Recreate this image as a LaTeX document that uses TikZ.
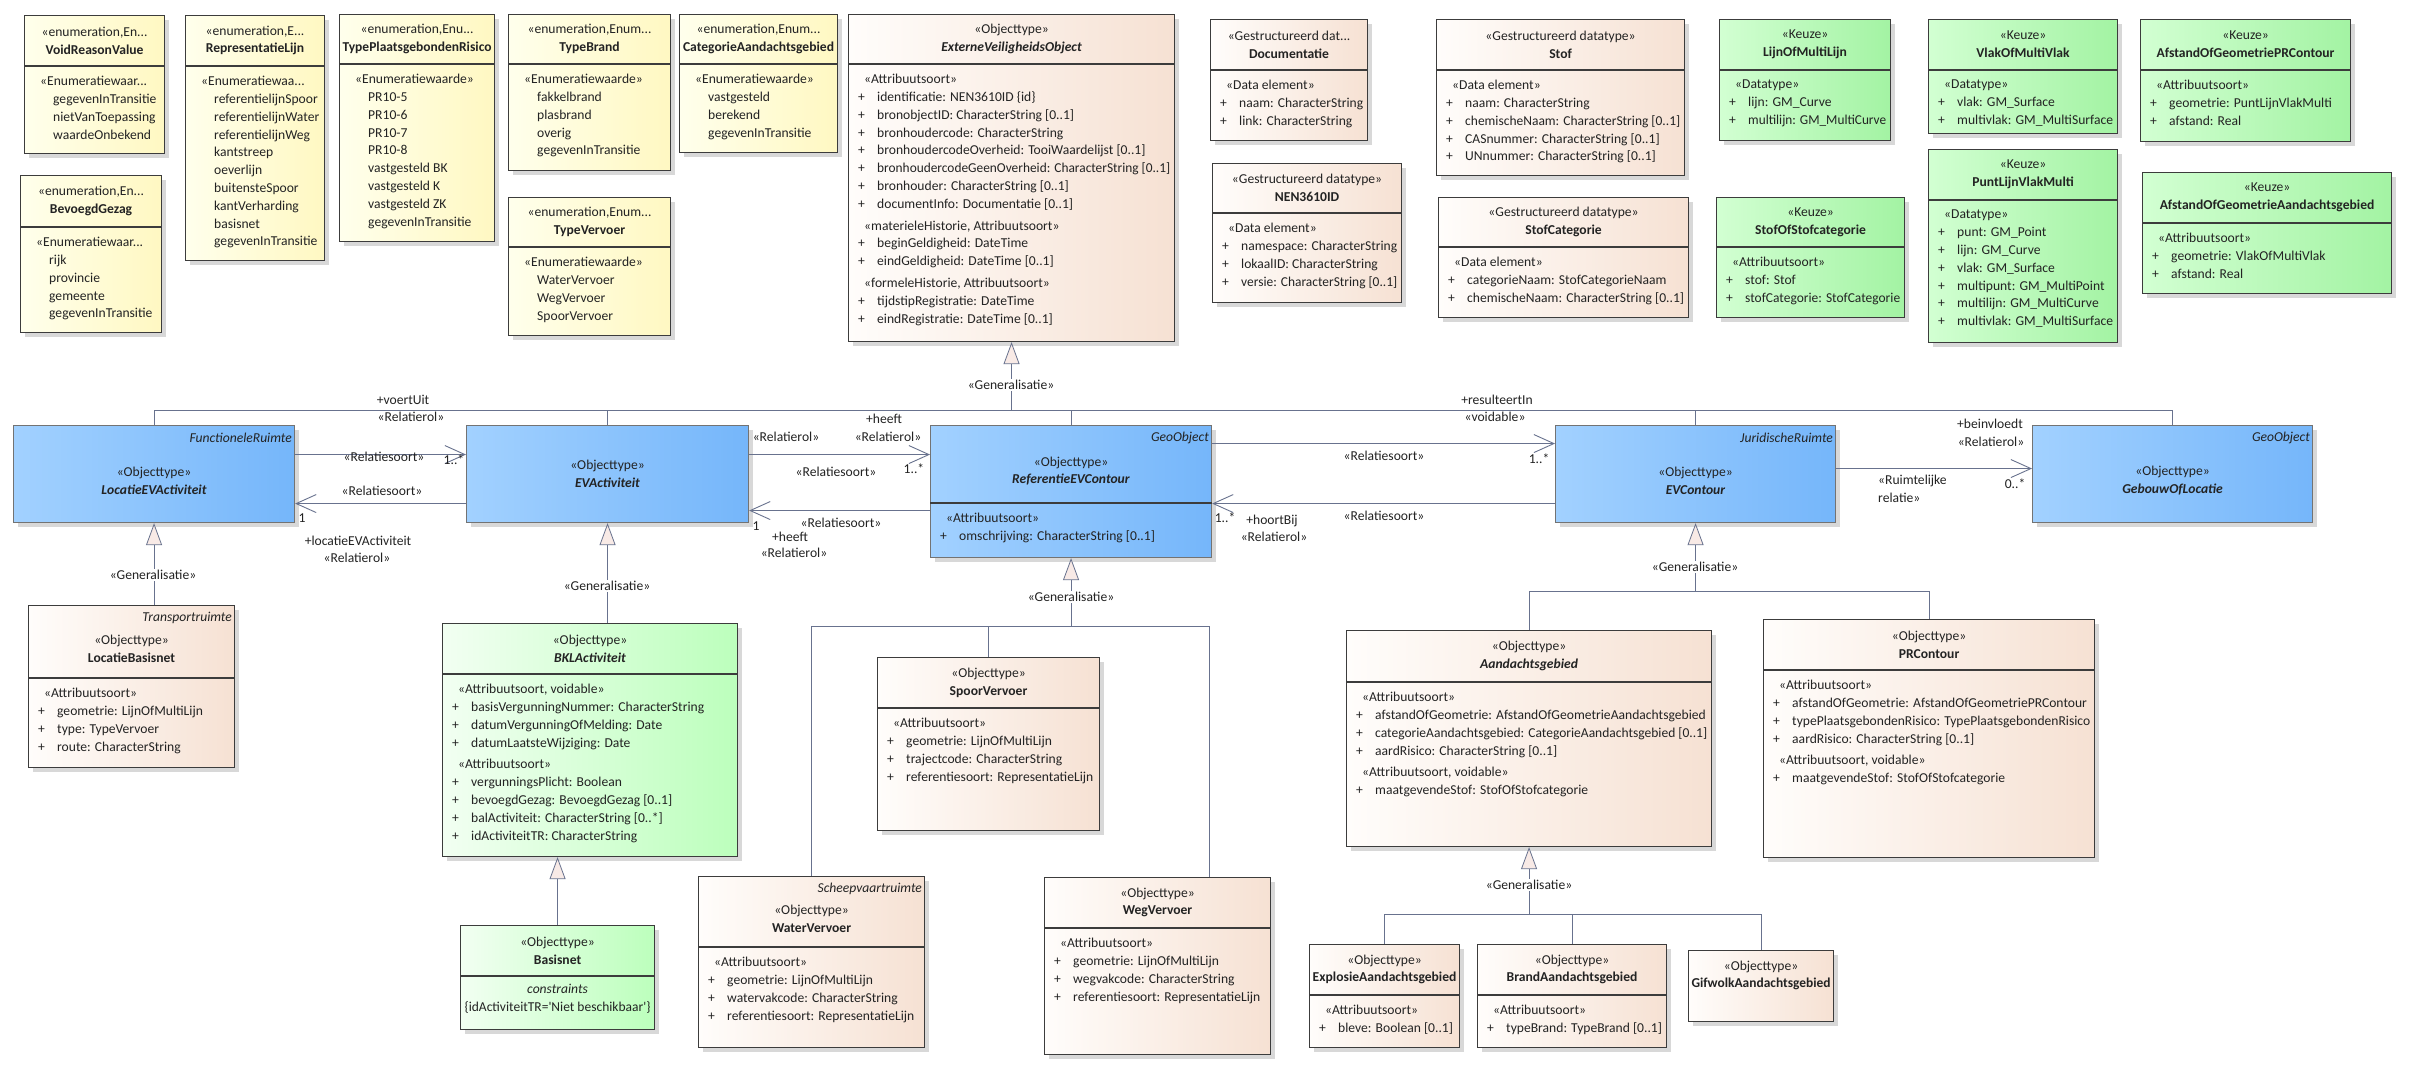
\documentclass[tikz,border=0pt]{standalone}
\usepackage{fontspec}
\setmainfont{Carlito}
\usepackage{graphicx}
\usepackage{tikz}
\usetikzlibrary{arrows.meta,calc,shadows}

\definecolor{enumL}{RGB}{255,255,236}
\definecolor{enumR}{RGB}{255,248,194}
\definecolor{objL}{RGB}{255,253,251}
\definecolor{objR}{RGB}{246,225,211}
\definecolor{blueL}{RGB}{162,209,255}
\definecolor{blueR}{RGB}{117,182,250}
\definecolor{keuzeL}{RGB}{210,255,210}
\definecolor{keuzeR}{RGB}{163,243,163}
\definecolor{bklL}{RGB}{242,255,242}
\definecolor{bklR}{RGB}{188,255,188}
\definecolor{genfill}{RGB}{248,234,230}
\definecolor{lncol}{RGB}{104,114,142}
\definecolor{boxline}{RGB}{60,60,60}
\definecolor{txt}{RGB}{35,35,35}

\newcommand{\fs}{\fontsize{13.6}{17.8}\selectfont}
\newsavebox\fitbox
\newlength\fitlen
\newcommand{\fitw}[2]{\setlength\fitlen{#1}\sbox\fitbox{#2}%
  \ifdim\wd\fitbox>\fitlen\resizebox{\fitlen}{\ht\fitbox}{\usebox\fitbox}\else\usebox\fitbox\fi}
\newcommand{\bw}{100}
\newcommand{\attr}[1]{\makebox[19pt][l]{+}\fitw{\dimexpr\bw pt-33pt\relax}{#1}}
\newcommand{\ster}[1]{\hspace*{6pt}#1}
\newcommand{\eval}[1]{\hspace*{19pt}#1}
\newcommand{\hname}[1]{\fitw{\dimexpr\bw pt-6pt\relax}{\textbf{#1}}}
\newcommand{\hnamei}[1]{\fitw{\dimexpr\bw pt-6pt\relax}{\textbf{\textit{#1}}}}
\newcommand{\umlclass}[9]{%
  \renewcommand{\bw}{#4}%
  \node[#2, minimum width=#4pt, minimum height=#5pt] (#1) at (#3) {};
  \if\relax\detokenize{#9}\relax\else
    \draw[sepline] ($(#1.north west)+(0,#6)$) -- ($(#1.north east)+(0,#6)$);
    \node[body] (#1-b) at ($(#1.north west)+(10,#6+10)$) {#9};
  \fi
  \if\relax\detokenize{#7}\relax
    \node[hdr] (#1-h) at ($(#1.north)+(0,#6/2)$) {#8};
  \else
    \node[tag] (#1-t) at ($(#1.north east)+(-3,13)$) {#7};
    \node[hdr] (#1-h) at ($(#1.north)+(0,7+#6/2)$) {#8};
  \fi}

\begin{document}
\begin{tikzpicture}[
    x=1pt, y=-1pt,
    box/.style={draw=boxline, line width=1.1pt, inner sep=0pt, anchor=north west,
                drop shadow={shadow xshift=4pt, shadow yshift=-4pt, opacity=0.25, fill=black!60}},
    enumbox/.style={box, left color=enumL, right color=enumR},
    objbox/.style={box, left color=objL, right color=objR},
    bluebox/.style={box, left color=blueL, right color=blueR, draw=black!55},
    keuzebox/.style={box, left color=keuzeL, right color=keuzeR},
    bklbox/.style={box, left color=bklL, right color=bklR},
    sepline/.style={draw=boxline, line width=1.1pt},
    hdr/.style={anchor=center, align=center, inner sep=0pt, font=\fs, text=txt},
    body/.style={anchor=north west, align=left, inner sep=0pt, font=\fs, text=txt,
                 execute at begin node=\strut},
    tag/.style={anchor=east, inner sep=0pt, font=\fs\itshape, text=txt},
    lbl/.style={inner sep=0pt, font=\fs, text=txt},
    genlbl/.style={lbl, fill=white, inner sep=1.5pt},
    genline/.style={draw=lncol, line width=0.8pt},
    genarr/.style={genline, -{Triangle[length=22pt, width=16pt, fill=genfill]}},
    assoc/.style={draw=lncol, line width=0.9pt, -{Straight Barb[length=20pt, width=18pt]}}
  ]
  \fill[white] (0,0) rectangle (2411,1072);
  \useasboundingbox (0,0) rectangle (2411,1072);

  \umlclass{vrv}{enumbox}{24,15}{140}{138}{51}{}{«enumeration,En...\\\hname{VoidReasonValue}}
    {\ster{«Enumeratiewaar...}\\\eval{gegevenInTransitie}\\\eval{nietVanToepassing}\\\eval{waardeOnbekend}}
  \umlclass{bg}{enumbox}{20,175}{141}{157}{52}{}{«enumeration,En...\\\hname{BevoegdGezag}}
    {\ster{«Enumeratiewaar...}\\\eval{rijk}\\\eval{provincie}\\\eval{gemeente}\\\eval{gegevenInTransitie}}
  \umlclass{rl}{enumbox}{185,15}{139}{245}{51}{}{«enumeration,E...\\\hname{RepresentatieLijn}}
    {\ster{«Enumeratiewaa...}\\\eval{referentielijnSpoor}\\\eval{referentielijnWater}\\\eval{referentielijnWeg}\\\eval{kantstreep}\\\eval{oeverlijn}\\\eval{buitensteSpoor}\\\eval{kantVerharding}\\\eval{basisnet}\\\eval{gegevenInTransitie}}
  \umlclass{tpr}{enumbox}{339,14}{155}{227}{50}{}{«enumeration,Enu...\\\hname{TypePlaatsgebondenRisico}}
    {\ster{«Enumeratiewaarde»}\\\eval{PR10-5}\\\eval{PR10-6}\\\eval{PR10-7}\\\eval{PR10-8}\\\eval{vastgesteld BK}\\\eval{vastgesteld K}\\\eval{vastgesteld ZK}\\\eval{gegevenInTransitie}}
  \umlclass{tb}{enumbox}{508,14}{162}{156}{50}{}{«enumeration,Enum...\\\hname{TypeBrand}}
    {\ster{«Enumeratiewaarde»}\\\eval{fakkelbrand}\\\eval{plasbrand}\\\eval{overig}\\\eval{gegevenInTransitie}}
  \umlclass{tv}{enumbox}{508,197}{162}{138}{50}{}{«enumeration,Enum...\\\hname{TypeVervoer}}
    {\ster{«Enumeratiewaarde»}\\\eval{WaterVervoer}\\\eval{WegVervoer}\\\eval{SpoorVervoer}}
  \umlclass{cag}{enumbox}{679,14}{158}{138}{50}{}{«enumeration,Enum...\\\hname{CategorieAandachtsgebied}}
    {\ster{«Enumeratiewaarde»}\\\eval{vastgesteld}\\\eval{berekend}\\\eval{gegevenInTransitie}}

  \umlclass{evo}{objbox}{848,14}{326}{327}{50}{}{«Objecttype»\\\hnamei{ExterneVeiligheidsObject}}
    {\ster{«Attribuutsoort»}\\\attr{identificatie: NEN3610ID \{id\}}\\\attr{bronobjectID: CharacterString [0..1]}\\\attr{bronhoudercode: CharacterString}\\\attr{bronhoudercodeOverheid: TooiWaardelijst [0..1]}\\\attr{bronhoudercodeGeenOverheid: CharacterString [0..1]}\\\attr{bronhouder: CharacterString [0..1]}\\\attr{documentInfo: Documentatie [0..1]}\\[4pt]\ster{«materieleHistorie, Attribuutsoort»}\\\attr{beginGeldigheid: DateTime}\\\attr{eindGeldigheid: DateTime [0..1]}\\[4pt]\ster{«formeleHistorie, Attribuutsoort»}\\\attr{tijdstipRegistratie: DateTime}\\\attr{eindRegistratie: DateTime [0..1]}}
  \umlclass{doc}{objbox}{1210,19}{157}{121}{51}{}{«Gestructureerd dat...\\\hname{Documentatie}}
    {\ster{«Data element»}\\\attr{naam: CharacterString}\\\attr{link: CharacterString}}
  \umlclass{nen}{objbox}{1212,163}{189}{139}{50}{}{«Gestructureerd datatype»\\\hname{NEN3610ID}}
    {\ster{«Data element»}\\\attr{namespace: CharacterString}\\\attr{lokaalID: CharacterString}\\\attr{versie: CharacterString [0..1]}}
  \umlclass{stof}{objbox}{1436,19}{248}{156}{51}{}{«Gestructureerd datatype»\\\hname{Stof}}
    {\ster{«Data element»}\\\attr{naam: CharacterString}\\\attr{chemischeNaam: CharacterString [0..1]}\\\attr{CASnummer: CharacterString [0..1]}\\\attr{UNnummer: CharacterString [0..1]}}
  \umlclass{stc}{objbox}{1438,197}{250}{120}{50}{}{«Gestructureerd datatype»\\\hname{StofCategorie}}
    {\ster{«Data element»}\\\attr{categorieNaam: StofCategorieNaam}\\\attr{chemischeNaam: CharacterString [0..1]}}

  \umlclass{lml}{keuzebox}{1719,19}{171}{121}{51}{}{«Keuze»\\\hname{LijnOfMultiLijn}}
    {\ster{«Datatype»}\\\attr{lijn: GM\_Curve}\\\attr{multilijn: GM\_MultiCurve}}
  \umlclass{vmv}{keuzebox}{1928,19}{189}{114}{51}{}{«Keuze»\\\hname{VlakOfMultiVlak}}
    {\ster{«Datatype»}\\\attr{vlak: GM\_Surface}\\\attr{multivlak: GM\_MultiSurface}}
  \umlclass{agpr}{keuzebox}{2140,19}{210}{122}{51}{}{«Keuze»\\\hname{AfstandOfGeometriePRContour}}
    {\ster{«Attribuutsoort»}\\\attr{geometrie: PuntLijnVlakMulti}\\\attr{afstand: Real}}
  \umlclass{sos}{keuzebox}{1716,197}{188}{120}{50}{}{«Keuze»\\\hname{StofOfStofcategorie}}
    {\ster{«Attribuutsoort»}\\\attr{stof: Stof}\\\attr{stofCategorie: StofCategorie}}
  \umlclass{plvm}{keuzebox}{1928,149}{189}{193}{51}{}{«Keuze»\\\hname{PuntLijnVlakMulti}}
    {\ster{«Datatype»}\\\attr{punt: GM\_Point}\\\attr{lijn: GM\_Curve}\\\attr{vlak: GM\_Surface}\\\attr{multipunt: GM\_MultiPoint}\\\attr{multilijn: GM\_MultiCurve}\\\attr{multivlak: GM\_MultiSurface}}
  \umlclass{aga}{keuzebox}{2142,172}{249}{121}{51}{}{«Keuze»\\\hname{AfstandOfGeometrieAandachtsgebied}}
    {\ster{«Attribuutsoort»}\\\attr{geometrie: VlakOfMultiVlak}\\\attr{afstand: Real}}

  \umlclass{locev}{bluebox}{13,425}{281}{97}{97}{FunctioneleRuimte}{«Objecttype»\\\hnamei{LocatieEVActiviteit}}{}
  \umlclass{evact}{bluebox}{466,425}{282}{97}{97}{}{«Objecttype»\\\hnamei{EVActiviteit}}{}
  \umlclass{ref}{bluebox}{930,425}{281}{132}{78}{GeoObject}{«Objecttype»\\\hnamei{ReferentieEVContour}}
    {\ster{«Attribuutsoort»}\\\attr{omschrijving: CharacterString [0..1]}}
  \umlclass{evc}{bluebox}{1555,425}{280}{97}{97}{JuridischeRuimte}{«Objecttype»\\\hnamei{EVContour}}{}
  \umlclass{geb}{bluebox}{2032,425}{280}{97}{97}{GeoObject}{«Objecttype»\\\hnamei{GebouwOfLocatie}}{}

  \umlclass{locbas}{objbox}{28,605}{206}{162}{73}{Transportruimte}{«Objecttype»\\\hname{LocatieBasisnet}}
    {\ster{«Attribuutsoort»}\\\attr{geometrie: LijnOfMultiLijn}\\\attr{type: TypeVervoer}\\\attr{route: CharacterString}}
  \umlclass{bkl}{bklbox}{442,623}{295}{233}{51}{}{«Objecttype»\\\hnamei{BKLActiviteit}}
    {\ster{«Attribuutsoort, voidable»}\\\attr{basisVergunningNummer: CharacterString}\\\attr{datumVergunningOfMelding: Date}\\\attr{datumLaatsteWijziging: Date}\\[4pt]\ster{«Attribuutsoort»}\\\attr{vergunningsPlicht: Boolean}\\\attr{bevoegdGezag: BevoegdGezag [0..1]}\\\attr{balActiviteit: CharacterString [0..*]}\\\attr{idActiviteitTR: CharacterString}}
  \umlclass{basis}{bklbox}{460,925}{194}{104}{51}{}{«Objecttype»\\\hname{Basisnet}}{~}
  \node[hdr] (basis-c) at ($(basis.north)+(0,73.5)$)
    {\textit{constraints}\\\fitw{186pt}{\{idActiviteitTR=\textquotesingle Niet beschikbaar\textquotesingle\}}};
  \umlclass{spoor}{objbox}{877,657}{222}{173}{51}{}{«Objecttype»\\\hname{SpoorVervoer}}
    {\ster{«Attribuutsoort»}\\\attr{geometrie: LijnOfMultiLijn}\\\attr{trajectcode: CharacterString}\\\attr{referentiesoort: RepresentatieLijn}}
  \umlclass{water}{objbox}{698,876}{226}{171}{71}{Scheepvaartruimte}{«Objecttype»\\\hname{WaterVervoer}}
    {\ster{«Attribuutsoort»}\\\attr{geometrie: LijnOfMultiLijn}\\\attr{watervakcode: CharacterString}\\\attr{referentiesoort: RepresentatieLijn}}
  \umlclass{weg}{objbox}{1044,877}{226}{177}{51}{}{«Objecttype»\\\hname{WegVervoer}}
    {\ster{«Attribuutsoort»}\\\attr{geometrie: LijnOfMultiLijn}\\\attr{wegvakcode: CharacterString}\\\attr{referentiesoort: RepresentatieLijn}}
  \umlclass{aand}{objbox}{1346,630}{365}{216}{52}{}{«Objecttype»\\\hnamei{Aandachtsgebied}}
    {\ster{«Attribuutsoort»}\\\attr{afstandOfGeometrie: AfstandOfGeometrieAandachtsgebied}\\\attr{categorieAandachtsgebied: CategorieAandachtsgebied [0..1]}\\\attr{aardRisico: CharacterString [0..1]}\\[4pt]\ster{«Attribuutsoort, voidable»}\\\attr{maatgevendeStof: StofOfStofcategorie}}
  \umlclass{prc}{objbox}{1763,619}{331}{238}{51}{}{«Objecttype»\\\hname{PRContour}}
    {\ster{«Attribuutsoort»}\\\attr{afstandOfGeometrie: AfstandOfGeometriePRContour}\\\attr{typePlaatsgebondenRisico: TypePlaatsgebondenRisico}\\\attr{aardRisico: CharacterString [0..1]}\\[4pt]\ster{«Attribuutsoort, voidable»}\\\attr{maatgevendeStof: StofOfStofcategorie}}
  \umlclass{expl}{objbox}{1309,944}{150}{103}{51}{}{«Objecttype»\\\hname{ExplosieAandachtsgebied}}
    {\ster{«Attribuutsoort»}\\\attr{bleve: Boolean [0..1]}}
  \umlclass{brand}{objbox}{1477,944}{189}{103}{51}{}{«Objecttype»\\\hname{BrandAandachtsgebied}}
    {\ster{«Attribuutsoort»}\\\attr{typeBrand: TypeBrand [0..1]}}
  \umlclass{gif}{objbox}{1688,950}{145}{71}{51}{}{«Objecttype»\\\hname{GifwolkAandachtsgebied}}{}

  \coordinate (bus1) at (0,410);
  \coordinate (bus2) at (0,626);
  \coordinate (bus3) at (0,591);
  \coordinate (bus4) at (0,914);
  \coordinate (wegtop) at ([xshift=52pt]weg.north);

  \draw[genarr] (evo.south |- bus1) -- (evo.south);
  \draw[genline] (locev.north |- bus1) -- (geb.north |- bus1);
  \foreach \n in {locev,evact,ref,evc,geb}
    \draw[genline] (\n.north) -- (\n.north |- bus1);
  \node[genlbl] (g1) at (1011,385) {«Generalisatie»};

  \draw[genarr] (locev.south |- locbas.north) -- (locev.south);
  \node[genlbl] (g2) at (153,575) {«Generalisatie»};
  \draw[genarr] (evact.south |- bkl.north) -- (evact.south);
  \node[genlbl] (g3) at (607,586) {«Generalisatie»};
  \draw[genarr] (basis.north) -- (basis.north |- bkl.south);

  \draw[genarr] (ref.south |- bus2) -- (ref.south);
  \draw[genline] (water.north |- bus2) -- (wegtop |- bus2);
  \foreach \n in {water.north,spoor.north,wegtop}
    \draw[genline] (\n) -- (\n |- bus2);
  \node[genlbl] (g4) at (1071,597) {«Generalisatie»};

  \draw[genarr] (evc.south |- bus3) -- (evc.south);
  \draw[genline] (aand.north |- bus3) -- (prc.north |- bus3);
  \foreach \n in {aand,prc}
    \draw[genline] (\n.north) -- (\n.north |- bus3);
  \node[genlbl] (g5) at (1695,567) {«Generalisatie»};

  \draw[genarr] (aand.south |- bus4) -- (aand.south);
  \draw[genline] (expl.north |- bus4) -- (gif.north |- bus4);
  \foreach \n in {expl,brand,gif}
    \draw[genline] (\n.north) -- (\n.north |- bus4);
  \node[genlbl] (g6) at (1529,885) {«Generalisatie»};

  \draw[assoc] ([yshift=19.5pt]locev.east) -- ([yshift=19.5pt]evact.west);
  \draw[assoc] ([yshift=-29.5pt]evact.west) -- ([yshift=-29.5pt]locev.east);
  \draw[assoc] ([yshift=19.5pt]evact.east) -- ([yshift=37pt]ref.west);
  \draw[assoc] ([yshift=-19pt]ref.west) -- ([yshift=-36.5pt]evact.east);
  \draw[assoc] ([yshift=48pt]ref.east) -- ([yshift=30.5pt]evc.west);
  \draw[assoc] ([yshift=-29.5pt]evc.west) -- ([yshift=-12pt]ref.east);
  \draw[assoc] ([yshift=5.5pt]evc.east) -- ([yshift=5.5pt]geb.west);

  \node[lbl] (a1s) at (384,457) {«Relatiesoort»};
  \node[lbl] (a1m) at (454,460) {1..*};
  \node[lbl] (a1r) at (403,400) {+voertUit};
  \node[lbl] (a1q) at (411,417) {«Relatierol»};
  \node[lbl] (a2s) at (382,491) {«Relatiesoort»};
  \node[lbl] (a2m) at (302,518) {1};
  \node[lbl] (a2r) at (358,541) {+locatieEVActiviteit};
  \node[lbl] (a2q) at (357,558) {«Relatierol»};
  \node[lbl] (a3p) at (786,437) {«Relatierol»};
  \node[lbl] (a3r) at (884,419) {+heeft};
  \node[lbl] (a3q) at (888,437) {«Relatierol»};
  \node[lbl] (a3s) at (836,472) {«Relatiesoort»};
  \node[lbl] (a3m) at (914,469) {1..*};
  \node[lbl] (a4s) at (841,523) {«Relatiesoort»};
  \node[lbl] (a4m) at (756,526) {1};
  \node[lbl] (a4r) at (790,537) {+heeft};
  \node[lbl] (a4q) at (794,553) {«Relatierol»};
  \node[lbl] (a5s) at (1384,456) {«Relatiesoort»};
  \node[lbl] (a5m) at (1539,459) {1..*};
  \node[lbl] (a5r) at (1497,400) {+resulteertIn};
  \node[lbl] (a5q) at (1495,417) {«voidable»};
  \node[lbl] (a6s) at (1384,516) {«Relatiesoort»};
  \node[lbl] (a6m) at (1225,518) {1..*};
  \node[lbl] (a6r) at (1272,521) {+hoortBij};
  \node[lbl] (a6q) at (1274,537) {«Relatierol»};
  \node[lbl] (a7r) at (1990,424) {+beinvloedt};
  \node[lbl] (a7q) at (1991,442) {«Relatierol»};
  \node[lbl, anchor=west, align=left] (a7s) at (1878,489) {«Ruimtelijke\\relatie»};
  \node[lbl] (a7m) at (2015,484) {0..*};
\end{tikzpicture}
\end{document}
